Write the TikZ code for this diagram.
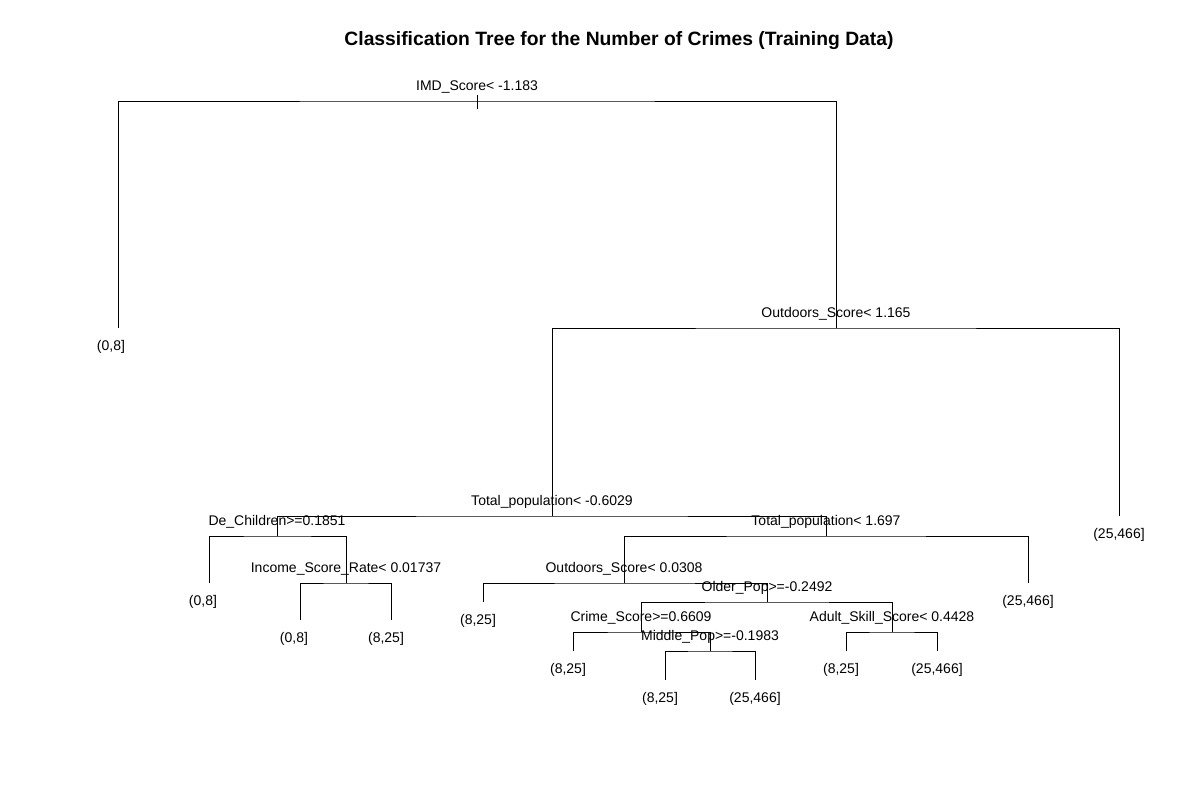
\documentclass[tikz,border=0pt]{standalone}
\usepackage{fontspec}
\setmainfont{Liberation Sans}
\usetikzlibrary{calc,positioning}
\tikzset{
	branch/.style={line width=1pt},
	split/.style={anchor=base, yshift=11pt, inner sep=0pt, font=\fontsize{14}{16}\selectfont},
	leaf/.style={anchor=base, yshift=-22pt, inner sep=0pt, font=\fontsize{14}{16}\selectfont},
	shortleaf/.style={leaf, xshift=-5pt}
}

\begin{document}
\begin{tikzpicture}[x=1pt,y=-1pt]
	\fill[white] (0,0) rectangle (1200,800);
	\useasboundingbox (0,0) rectangle (1200,800);

	\node[font=\bfseries\fontsize{19.3}{22}\selectfont] (title) at (619,41) {Classification Tree for the Number of Crimes (Training Data)};

	\coordinate (imd) at (477,101); \coordinate (outdA) at (836,328); \coordinate (totA) at (552,516);
	\coordinate (dech) at (277,536); \coordinate (inc) at (346,583); \coordinate (totB) at (826,536);
	\coordinate (outdB) at (624,583); \coordinate (older) at (767,602); \coordinate (crime) at (641,632);
	\coordinate (middle) at (710,651); \coordinate (adult) at (892,632);

	\coordinate (lfA) at (118,328); \coordinate (lfB) at (1119,516); \coordinate (lfC) at (209,583);
	\coordinate (lfD) at (300,620); \coordinate (lfE) at (391,620); \coordinate (lfF) at (1028,583);
	\coordinate (lfG) at (483,602); \coordinate (lfH) at (573,651); \coordinate (lfI) at (665,680);
	\coordinate (lfJ) at (755,680); \coordinate (lfK) at (846,651); \coordinate (lfL) at (937,651);

	\draw[branch] (lfA) |- (imd) -| (outdA); \draw[branch] ([yshift=6pt]imd) -- ([yshift=-8pt]imd);
	\draw[branch] (totA) |- (outdA) -| (lfB);
	\draw[branch] (dech) |- (totA) -| (totB);
	\draw[branch] (lfC) |- (dech) -| (inc); \draw[branch] (lfD) |- (inc) -| (lfE);
	\draw[branch] (outdB) |- (totB) -| (lfF);
	\draw[branch] (lfG) |- (outdB) -| (older);
	\draw[branch] (crime) |- (older) -| (adult);
	\draw[branch] (lfH) |- (crime) -| (middle); \draw[branch] (lfI) |- (middle) -| (lfJ);
	\draw[branch] (lfK) |- (adult) -| (lfL);

	\node[split] (imdlab) at (imd) {IMD\_Score< -1.183};
	\node[split] (outdAlab) at (outdA) {Outdoors\_Score< 1.165};
	\node[split] (totAlab) at (totA) {Total\_population< -0.6029};
	\node[split] (dechlab) at (dech) {De\_Children>=0.1851};
	\node[split] (inclab) at (inc) {Income\_Score\_Rate< 0.01737};
	\node[split] (totBlab) at (totB) {Total\_population< 1.697};
	\node[split] (outdBlab) at (outdB) {Outdoors\_Score< 0.0308};
	\node[split] (olderlab) at (older) {Older\_Pop>=-0.2492};
	\node[split] (crimelab) at (crime) {Crime\_Score>=0.6609};
	\node[split] (middlelab) at (middle) {Middle\_Pop>=-0.1983};
	\node[split] (adultlab) at (adult) {Adult\_Skill\_Score< 0.4428};

	\node[shortleaf, xshift=-2pt] (lfAlab) at (lfA) {(0,8]}; \node[leaf] (lfBlab) at (lfB) {(25,466]};
	\node[shortleaf, xshift=-1pt] (lfClab) at (lfC) {(0,8]}; \node[shortleaf, xshift=-1pt] (lfDlab) at (lfD) {(0,8]};
	\node[shortleaf] (lfElab) at (lfE) {(8,25]}; \node[leaf] (lfFlab) at (lfF) {(25,466]};
	\node[shortleaf] (lfGlab) at (lfG) {(8,25]}; \node[shortleaf] (lfHlab) at (lfH) {(8,25]};
	\node[shortleaf] (lfIlab) at (lfI) {(8,25]}; \node[leaf] (lfJlab) at (lfJ) {(25,466]};
	\node[shortleaf] (lfKlab) at (lfK) {(8,25]}; \node[leaf] (lfLlab) at (lfL) {(25,466]};
\end{tikzpicture}
\end{document}
